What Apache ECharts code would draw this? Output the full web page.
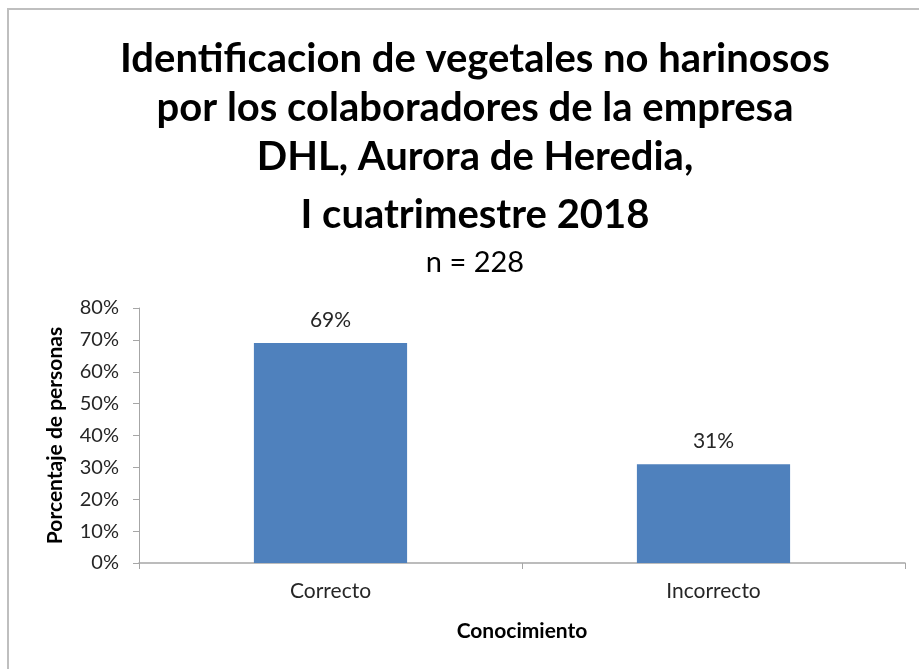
<!DOCTYPE html>
<html>
<head>
<meta charset="utf-8">
<script src="https://cdn.jsdelivr.net/npm/echarts@6/dist/echarts.min.js"></script>
<style>
  html, body { margin: 0; padding: 0; background: #fff; }
  #chart { width: 919px; height: 669px; }
</style>
</head>
<body>
<div id="chart"></div>
<script>
// Knowledge of non-starchy vegetables, share of respondents
const categories = ['Correcto', 'Incorrecto'];
const percentages = [69, 31];
const yTicks = [0, 10, 20, 30, 40, 50, 60, 70, 80];

const FONT = 'Lato, "Open Sans", sans-serif';

const chart = echarts.init(document.getElementById('chart'), null, { renderer: 'canvas' });

chart.setOption({
  backgroundColor: '#ffffff',
  animation: false,
  title: [
    {
      text: 'Identificacion de vegetales no harinosos\npor los colaboradores de la empresa\nDHL, Aurora de Heredia,',
      left: 470, top: 30, textAlign: 'center',
      textStyle: { fontFamily: FONT, fontSize: 40, fontWeight: 'bold', color: '#000', lineHeight: 49 }
    },
    {
      text: 'I cuatrimestre 2018',
      left: 470, top: 186, textAlign: 'center',
      textStyle: { fontFamily: FONT, fontSize: 40, fontWeight: 'bold', color: '#000', lineHeight: 49 }
    },
    {
      text: 'n = 228',
      left: 470, top: 243, textAlign: 'center',
      textStyle: { fontFamily: FONT, fontSize: 29, fontWeight: 'normal', color: '#000' }
    }
  ],
  graphic: [
    {
      type: 'polyline',
      shape: { points: [[8, 700], [8, 9], [930, 9]] },
      style: { stroke: '#bfbfbf', lineWidth: 2, fill: null }
    }
  ],
  grid: { left: 139, right: 14, top: 308, bottom: 106, containLabel: false },
  xAxis: {
    type: 'category',
    data: categories,
    name: 'Conocimiento',
    nameLocation: 'middle',
    nameGap: 58,
    nameTextStyle: { fontFamily: FONT, fontSize: 21, fontWeight: 'bold', color: '#000' },
    axisLine: { lineStyle: { color: '#a6a6a6', width: 1.5 } },
    axisTick: { show: true, alignWithLabel: false, length: 6, lineStyle: { color: '#a6a6a6' } },
    axisLabel: { fontFamily: FONT, fontSize: 21, color: '#262626', margin: 18 }
  },
  yAxis: {
    type: 'value',
    min: yTicks[0], max: yTicks[yTicks.length - 1], interval: 10,
    name: 'Porcentaje de personas',
    nameLocation: 'middle',
    nameGap: 73,
    nameTextStyle: { fontFamily: FONT, fontSize: 21, fontWeight: 'bold', color: '#000' },
    axisLine: { show: true, lineStyle: { color: '#a6a6a6', width: 1 } },
    axisTick: { show: true, length: 6, inside: false, lineStyle: { color: '#a6a6a6' } },
    splitLine: { show: false },
    axisLabel: { fontFamily: FONT, fontSize: 20, color: '#262626', margin: 20, formatter: '{value}%' }
  },
  series: [
    {
      type: 'bar',
      data: percentages,
      barWidth: '40%',
      itemStyle: { color: '#4f81bd' },
      label: {
        show: true, position: 'top', distance: 12,
        fontFamily: FONT, fontSize: 21, color: '#262626',
        formatter: p => p.value + '%'
      }
    }
  ]
});
</script>
</body>
</html>
